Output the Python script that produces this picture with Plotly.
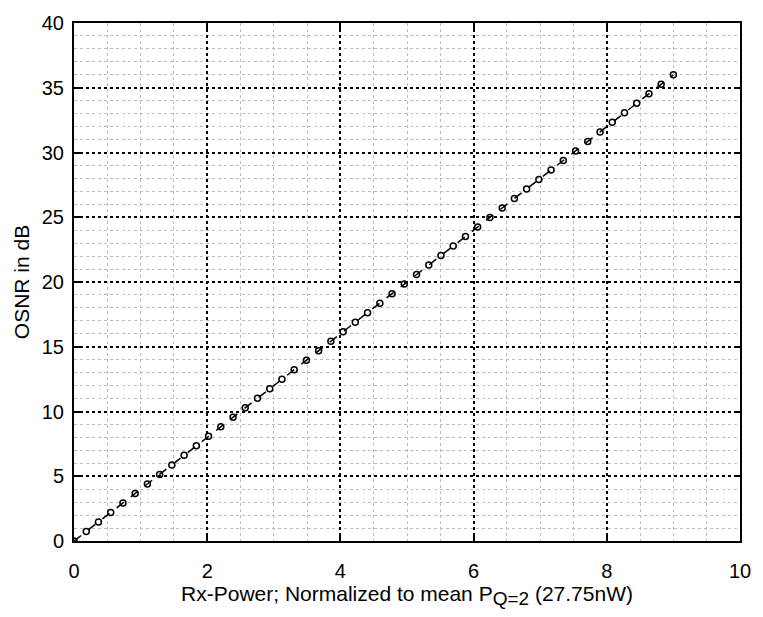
import plotly.graph_objects as go

rx_power = [0.0, 0.184, 0.367, 0.551, 0.735, 0.918, 1.102, 1.286, 1.469, 1.653,
            1.837, 2.020, 2.204, 2.388, 2.571, 2.755, 2.939, 3.122, 3.306, 3.490,
            3.673, 3.857, 4.041, 4.224, 4.408, 4.592, 4.776, 4.959, 5.143, 5.327,
            5.510, 5.694, 5.878, 6.061, 6.245, 6.429, 6.612, 6.796, 6.980, 7.163,
            7.347, 7.531, 7.714, 7.898, 8.082, 8.265, 8.449, 8.633, 8.816, 9.000]
osnr_db = [0.0, 0.735, 1.469, 2.204, 2.939, 3.673, 4.408, 5.143, 5.878, 6.612,
           7.347, 8.082, 8.816, 9.551, 10.286, 11.020, 11.755, 12.490, 13.224, 13.959,
           14.694, 15.429, 16.163, 16.898, 17.633, 18.367, 19.102, 19.837, 20.571, 21.306,
           22.041, 22.776, 23.510, 24.245, 24.980, 25.714, 26.449, 27.184, 27.918, 28.653,
           29.388, 30.122, 30.857, 31.592, 32.327, 33.061, 33.796, 34.531, 35.265, 36.000]

x_ticks = [0, 2, 4, 6, 8, 10]
y_ticks = [0, 5, 10, 15, 20, 25, 30, 35, 40]

fig = go.Figure()
fig.add_trace(go.Scatter(
    x=rx_power, y=osnr_db, mode="lines+markers",
    line=dict(color="black", width=1.5, dash="dash"),
    marker=dict(symbol="circle-open", size=6, color="black", line=dict(width=1.5, color="black")),
    showlegend=False,
))

font = dict(family="Liberation Sans, Arial, sans-serif", size=20, color="black")
title_font = dict(family="Liberation Sans, Arial, sans-serif", size=21, color="black")

axis_common = dict(
    showline=True, linecolor="black", linewidth=2, mirror="ticks",
    ticks="inside", ticklen=6, tickwidth=1.5, tickcolor="black",
    showgrid=True, gridcolor="black", gridwidth=1.5, griddash="dot",
    zeroline=False, tickfont=font,
)

fig.update_xaxes(
    range=[0, 10], tickvals=x_ticks, ticktext=[str(v) for v in x_ticks],
    minor=dict(dtick=0.5, tick0=0, showgrid=True, gridcolor="#bdbdbd", gridwidth=1.2, griddash="dot", ticks=""),
    title=dict(text="Rx-Power; Normalized to mean P<sub><span style=\"font-size:19px\">Q=2</span></sub> (27.75nW)",
               font=title_font, standoff=3),
    ticklabelstandoff=11,
    **axis_common,
)
fig.update_yaxes(
    range=[0, 40], tickvals=y_ticks, ticktext=[str(v) for v in y_ticks],
    minor=dict(dtick=1, tick0=0, showgrid=True, gridcolor="#bdbdbd", gridwidth=1.2, griddash="dot", ticks=""),
    title=dict(text="OSNR in dB", font=title_font, standoff=6),
    ticklabelstandoff=4,
    **axis_common,
)

fig.update_layout(
    width=763, height=617,
    margin=dict(l=74, r=14, t=16, b=76),
    plot_bgcolor="white", paper_bgcolor="white",
    font=font,
)

fig.write_html("out.html")
